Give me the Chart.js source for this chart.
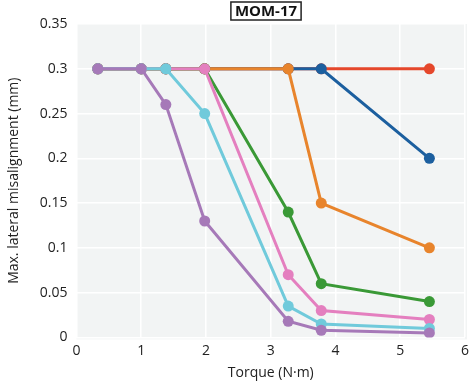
<!DOCTYPE html>
<html><head><meta charset="utf-8">
<script src="https://cdn.jsdelivr.net/npm/chart.js@4/dist/chart.umd.min.js"></script>
<style>html,body{margin:0;padding:0;background:#fff}#wrap{width:471px;height:381px}</style>
</head><body><div id="wrap"><canvas id="c" width="471" height="381"></canvas></div>
<script>
const chartTitle = "MOM-17";
const torque = [0.33, 1.0, 1.38, 1.98, 3.27, 3.78, 5.45];
const seriesRed    = [0.3, 0.3, 0.3, 0.3, 0.3, 0.3, 0.3];
const seriesBlue   = [0.3, 0.3, 0.3, 0.3, 0.3, 0.3, 0.2];
const seriesOrange = [0.3, 0.3, 0.3, 0.3, 0.3, 0.15, 0.1];
const seriesGreen  = [0.3, 0.3, 0.3, 0.3, 0.14, 0.06, 0.04];
const seriesPink   = [0.3, 0.3, 0.3, 0.3, 0.07, 0.03, 0.02];
const seriesCyan   = [0.3, 0.3, 0.3, 0.25, 0.035, 0.015, 0.01];
const seriesPurple = [0.3, 0.3, 0.26, 0.13, 0.018, 0.008, 0.005];
const xTitle = "Torque (N·m)";
const yTitle = "Max. lateral misalignment (mm)";

const FONT = "'Open Sans', 'Noto Sans', sans-serif";
function mk(vals, color) {
  return {
    data: vals.map((v, i) => ({x: torque[i], y: v})),
    borderColor: color, backgroundColor: color,
    borderWidth: 3, pointRadius: 5.5, pointHoverRadius: 5.5,
    pointBorderWidth: 0, showLine: true, tension: 0
  };
}
const bgPlugin = {
  id: 'bg',
  beforeDraw(chart) {
    const {ctx, chartArea: a} = chart;
    ctx.save(); ctx.fillStyle = '#f2f4f4';
    ctx.fillRect(a.left, a.top, a.right - a.left + 2, a.bottom - a.top + 2);
    ctx.restore();
  },
  afterDraw(chart) {
    const {ctx} = chart;
    ctx.save();
    ctx.font = "bold 15px " + FONT;
    ctx.textAlign = 'center'; ctx.textBaseline = 'middle';
    const cx = 266, cy = 11;
    const w = ctx.measureText(chartTitle).width + 8;
    ctx.fillStyle = '#fff';
    ctx.fillRect(cx - w/2, 2, w, 18);
    ctx.strokeStyle = '#222'; ctx.lineWidth = 1.5;
    ctx.strokeRect(cx - w/2, 2, w, 18);
    ctx.fillStyle = '#111';
    ctx.fillText(chartTitle, cx, cy + 1);
    ctx.restore();
  }
};
new Chart(document.getElementById('c'), {
  type: 'scatter',
  data: { datasets: [
    mk(seriesPurple, '#a679b8'),
    mk(seriesCyan, '#70cadb'),
    mk(seriesPink, '#e47fbf'),
    mk(seriesGreen, '#3a9936'),
    mk(seriesOrange, '#e8842c'),
    mk(seriesBlue, '#1c5f9f'),
    mk(seriesRed, '#e5472b')
  ]},
  options: {
    responsive: false, animation: false,
    layout: { padding: { top: 24, right: 6, left: 6, bottom: 0 } },
    plugins: { legend: { display: false }, tooltip: { enabled: false } },
    scales: {
      x: { type: 'linear', min: 0, max: 6,
        afterFit(s) { s.paddingRight = 0; },
        ticks: { stepSize: 1, color: '#222', font: { family: FONT, size: 14 }, padding: 5 },
        grid: { color: '#ffffff', lineWidth: 1.5, drawTicks: false },
        border: { display: false },
        title: { display: true, text: xTitle, color: '#222', font: { family: FONT, size: 14 }, padding: { top: 0, bottom: 0 } } },
      y: { min: 0, max: 0.35,
        ticks: { stepSize: 0.05, color: '#222', font: { family: FONT, size: 14 }, padding: 9,
          callback: v => String(Math.round(v * 100) / 100) },
        grid: { color: '#ffffff', lineWidth: 1.5, drawTicks: false },
        border: { display: false },
        title: { display: true, text: yTitle, color: '#222', font: { family: FONT, size: 14 }, padding: { top: 0, bottom: 8 } } }
    }
  },
  plugins: [bgPlugin]
});
</script></body></html>
